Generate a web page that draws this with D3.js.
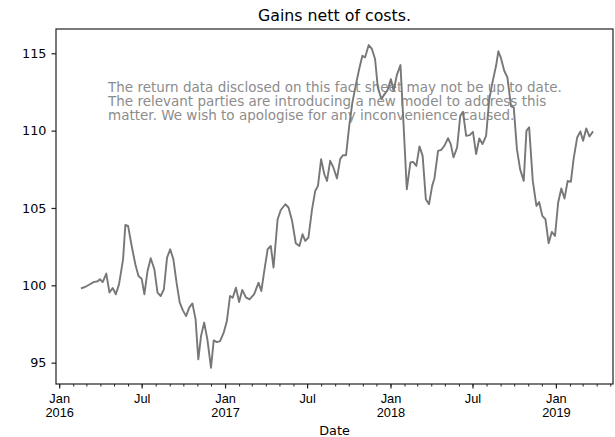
<!DOCTYPE html>
<html>
<head>
<meta charset="utf-8">
<script src="https://cdn.jsdelivr.net/npm/d3@7"></script>
<style>
  body { margin: 0; background: #fff; }
  svg { display: block; font-family: "DejaVu Sans", sans-serif; }
</style>
</head>
<body>
<svg id="chart" width="615" height="437"></svg>
<script>
const dates = [
  "2016-02-18","2016-02-27","2016-03-06","2016-03-17","2016-03-26","2016-03-31","2016-04-06","2016-04-14",
  "2016-04-21","2016-04-28","2016-05-05","2016-05-12","2016-05-21","2016-05-26","2016-06-01","2016-06-09",
  "2016-06-17","2016-06-24","2016-07-01","2016-07-07","2016-07-14","2016-07-21","2016-07-29","2016-08-05",
  "2016-08-12","2016-08-19","2016-08-26","2016-09-02","2016-09-09","2016-09-16","2016-09-23","2016-09-30",
  "2016-10-07","2016-10-14","2016-10-21","2016-10-28","2016-11-03","2016-11-09","2016-11-16","2016-11-23",
  "2016-12-01","2016-12-07","2016-12-14","2016-12-21","2016-12-29","2017-01-05","2017-01-12","2017-01-18",
  "2017-01-25","2017-02-01","2017-02-08","2017-02-16","2017-02-24","2017-03-06","2017-03-16","2017-03-22",
  "2017-03-28","2017-04-05","2017-04-12","2017-04-18","2017-04-27","2017-05-04","2017-05-14","2017-05-21",
  "2017-05-29","2017-06-06","2017-06-14","2017-06-21","2017-06-27","2017-07-04","2017-07-12","2017-07-19",
  "2017-07-25","2017-08-01","2017-08-08","2017-08-14","2017-08-21","2017-08-28","2017-09-05","2017-09-12",
  "2017-09-18","2017-09-25","2017-10-02","2017-10-09","2017-10-17","2017-10-24","2017-10-31","2017-11-06",
  "2017-11-14","2017-11-21","2017-11-28","2017-12-04","2017-12-12","2017-12-19","2017-12-26","2018-01-02",
  "2018-01-08","2018-01-15","2018-01-23","2018-01-30","2018-02-06","2018-02-14","2018-02-20","2018-02-27",
  "2018-03-06","2018-03-13","2018-03-20","2018-03-27","2018-04-03","2018-04-08","2018-04-16","2018-04-23",
  "2018-04-30","2018-05-08","2018-05-14","2018-05-20","2018-05-28","2018-06-04","2018-06-10","2018-06-17",
  "2018-06-25","2018-07-02","2018-07-09","2018-07-16","2018-07-23","2018-07-31","2018-08-07","2018-08-14",
  "2018-08-22","2018-08-27","2018-09-02","2018-09-09","2018-09-16","2018-09-24","2018-09-30","2018-10-07",
  "2018-10-14","2018-10-22","2018-10-28","2018-11-03","2018-11-11","2018-11-19","2018-11-25","2018-12-02",
  "2018-12-09","2018-12-16","2018-12-23","2018-12-30","2019-01-06","2019-01-13","2019-01-20","2019-01-27",
  "2019-02-03","2019-02-09","2019-02-17","2019-02-24","2019-03-02","2019-03-09","2019-03-16","2019-03-24"
];

const gains = [
  99.80, 99.89, 100.02, 100.21, 100.26, 100.39, 100.21, 100.76,
  99.53, 99.83, 99.42, 100.06, 101.68, 103.90, 103.84, 102.54,
  101.36, 100.60, 100.43, 99.42, 100.93, 101.75, 101.04, 99.53,
  99.31, 99.74, 101.79, 102.33, 101.68, 100.17, 98.88, 98.38,
  98.01, 98.56, 98.83, 97.80, 95.21, 96.72, 97.59, 96.50,
  94.67, 96.44, 96.33, 96.39, 96.94, 97.69, 99.31, 99.20,
  99.85, 98.92, 99.70, 99.22, 99.09, 99.42, 100.17, 99.63,
  100.82, 102.33, 102.54, 101.15, 104.27, 104.87, 105.24, 105.03,
  104.16, 102.72, 102.54, 103.30, 102.87, 103.09, 104.92, 106.10,
  106.43, 108.16, 107.18, 106.75, 108.05, 107.62, 106.91, 108.16,
  108.41, 108.41, 110.31, 111.83, 113.01, 113.98, 114.84, 114.74,
  115.53, 115.28, 114.63, 112.80, 112.04, 112.36, 112.64, 113.33,
  112.56, 113.59, 114.24, 110.31, 106.21, 107.94, 107.98, 107.72,
  108.98, 108.37, 105.57, 105.24, 106.43, 106.91, 108.69, 108.76,
  109.02, 109.51, 109.13, 108.27, 108.91, 110.96, 111.22, 109.66,
  109.71, 109.92, 108.48, 109.50, 109.13, 109.66, 112.04, 113.12,
  114.19, 115.13, 114.67, 113.87, 113.44, 111.57, 111.50, 108.80,
  107.51, 106.75, 109.99, 110.21, 106.75, 105.13, 105.39, 104.49,
  104.27, 102.72, 103.45, 103.19, 105.35, 106.26, 105.61, 106.75,
  106.69, 108.16, 109.56, 109.95, 109.34, 110.14, 109.62, 109.95
];

const yTicks = [95, 100, 105, 110, 115];
const xDomain = ["2015-12-25", "2019-05-07"];
const yDomain = [93.62, 116.57];

const title = "Gains nett of costs.";
const xLabel = "Date";
const notice = [
  "The return data disclosed on this fact sheet may not be up to date.",
  "The relevant parties are introducing a new model to address this",
  "matter. We wish to apologise for any inconvenience caused."
];

const parse = d3.utcParse("%Y-%m-%d");
const data = dates.map((d, i) => ({ date: parse(d), value: gains[i] }));

const svg = d3.select("#chart");
const margin = { top: 29, right: 2, bottom: 53, left: 56 };
const width = 615, height = 437;
const tickFont = "12.8px";

const x = d3.scaleUtc()
  .domain(xDomain.map(parse))
  .range([margin.left, width - margin.right]);

const y = d3.scaleLinear()
  .domain(yDomain)
  .range([height - margin.bottom, margin.top]);

const monthFmt = d3.utcFormat("%b");
const yearFmt = d3.utcFormat("%Y");

// notice text sits under the line
const note = svg.append("text")
  .attr("x", 108)
  .attr("y", 92)
  .attr("fill", "#8c8c8c")
  .attr("font-size", "13.5px");
note.selectAll("tspan")
  .data(notice)
  .join("tspan")
  .attr("x", 108)
  .attr("dy", (d, i) => i === 0 ? 0 : 14)
  .text(d => d);

// line
svg.append("path")
  .datum(data)
  .attr("fill", "none")
  .attr("stroke", "#777777")
  .attr("stroke-width", 1.9)
  .attr("stroke-linejoin", "round")
  .attr("d", d3.line().x(d => x(d.date)).y(d => y(d.value)));

// x axis: major ticks every 6 months, minor monthly
const majors = d3.utcMonth.every(6).range(parse("2016-01-01"), parse("2019-05-01"));
const minors = d3.utcMonth.range(parse("2016-01-01"), parse("2019-05-08"));

const xAxis = svg.append("g")
  .attr("transform", `translate(0,${height - margin.bottom})`);

xAxis.call(d3.axisBottom(x).tickValues(minors).tickSize(2.5).tickFormat(""))
  .call(g => g.select(".domain").remove())
  .call(g => g.selectAll("line").attr("stroke", "#222").attr("stroke-width", 1));

const xMajor = svg.append("g")
  .attr("transform", `translate(0,${height - margin.bottom})`)
  .call(d3.axisBottom(x).tickValues(majors).tickSize(4.5).tickFormat(""));
xMajor.select(".domain").remove();
xMajor.selectAll("line").attr("stroke", "#222").attr("stroke-width", 1.2);
xMajor.selectAll(".tick").each(function(d) {
  const g = d3.select(this);
  g.append("text")
    .attr("fill", "#000")
    .attr("font-size", tickFont)
    .attr("text-anchor", "middle")
    .attr("y", 18.5)
    .text(monthFmt(d));
  if (d.getUTCMonth() === 0) {
    g.append("text")
      .attr("fill", "#000")
      .attr("font-size", tickFont)
      .attr("text-anchor", "middle")
      .attr("y", 32.5)
      .text(yearFmt(d));
  }
});

// y axis
const yAxis = svg.append("g")
  .attr("transform", `translate(${margin.left},0)`)
  .call(d3.axisLeft(y).tickValues(yTicks).tickSize(4.5).tickPadding(5));
yAxis.select(".domain").remove();
yAxis.selectAll("line").attr("stroke", "#222").attr("stroke-width", 1.2);
yAxis.selectAll("text")
  .attr("fill", "#000")
  .attr("font-size", tickFont)
  .attr("font-family", "DejaVu Sans");

// frame
svg.append("rect")
  .attr("x", margin.left)
  .attr("y", margin.top)
  .attr("width", width - margin.left - margin.right)
  .attr("height", height - margin.top - margin.bottom)
  .attr("fill", "none")
  .attr("stroke", "#222")
  .attr("stroke-width", 1.2);

// title and axis label
svg.append("text")
  .attr("x", (margin.left + width - margin.right) / 2)
  .attr("y", 21)
  .attr("text-anchor", "middle")
  .attr("font-size", "15.8px")
  .text(title);

svg.append("text")
  .attr("x", (margin.left + width - margin.right) / 2)
  .attr("y", 435)
  .attr("text-anchor", "middle")
  .attr("font-size", tickFont)
  .text(xLabel);
</script>
</body>
</html>
